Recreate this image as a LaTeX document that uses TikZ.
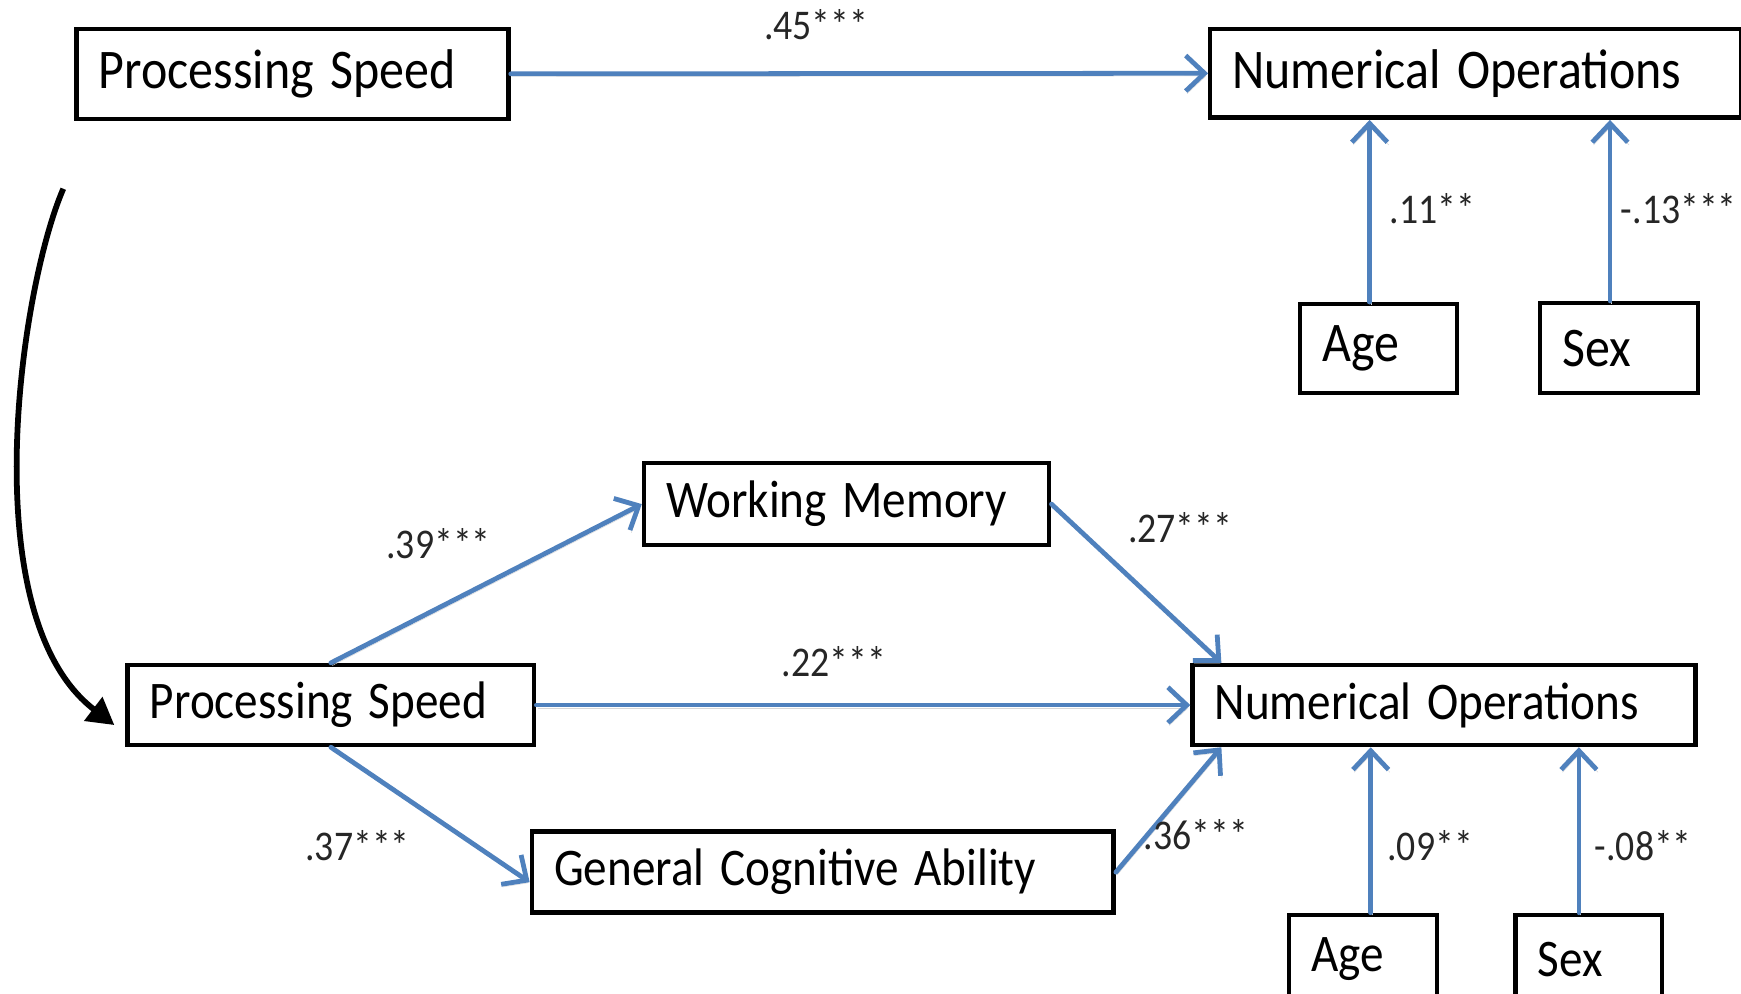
\documentclass[tikz,border=0pt]{standalone}
\usepackage{graphicx}
\usepackage{fontspec}
\setmainfont{Carlito}
\usetikzlibrary{arrows.meta,calc}
\definecolor{pathblue}{RGB}{79,129,189}
% narrow, tall lettering
\newcommand\tall[1]{\scalebox{1}[1.12]{#1}}
\begin{document}
\begin{tikzpicture}[x=1pt,y=-1pt,
  box/.style={draw=black, line width=4pt, rectangle, inner xsep=20pt, inner ysep=0pt,
    align=left, anchor=north west, font=\fontsize{45}{48}\selectfont},
  smallbox/.style={box, font=\fontsize{42.5}{46}\selectfont},
  path/.style={draw=pathblue, line width=4.3pt, line cap=round,
    -{Straight Barb[length=17pt,width=32pt,line width=4.3pt]},
    preaction={draw=black!16, transform canvas={shift={(1.2pt,-2.4pt)}}}},
  coef/.style={font=\fontsize{34}{38}\selectfont, text=black!85, inner sep=0pt},
  feedback/.style={draw=black, line width=5.2pt, -{Triangle[length=24pt,width=26pt]}}]
\clip (0,0) rectangle (1568,895);
\fill[white] (0,0) rectangle (1568,895);

% Model 1: total effect
\node[box, minimum height=81pt, text width=349pt] (ps1) at (67,24) {\tall{Processing Speed}};
\node[box, minimum height=80pt, text width=438pt] (no1) at (1088,24) {\tall{Numerical Operations}};
\node[box, minimum height=80pt, text width=101pt] (age1) at (1169,272) {\tall{Age}};
\node[box, minimum height=81pt, text width=102pt] (sex1) at (1385,271) {\tall{Sex}};

\draw[path] (ps1.east) -- (no1.west);
\coordinate (a1) at ([xshift=-8pt]age1.north);
\coordinate (s1) at ([xshift=-8pt]sex1.north);
\draw[path] (a1) -- (a1 |- no1.south);
\draw[path] (s1) -- (s1 |- no1.south);

\node[coef] (c45) at (735,22) {\tall{.45***}};
\node[coef] (c11) at (1290,188) {\tall{.11**}};
\node[coef] (c13) at (1512,188) {\tall{-.13***}};

% Model 2: mediated effect
\node[smallbox, minimum height=74pt, text width=325pt] (wm) at (578,415) {\tall{Working Memory}};
\node[smallbox, minimum height=72pt, text width=326pt] (ps2) at (113,597) {\tall{Processing Speed}};
\node[smallbox, minimum height=72pt, text width=413pt] (no2) at (1072,597) {\tall{Numerical Operations}};
\node[smallbox, minimum height=73pt, text width=484pt] (gca) at (477,747) {\tall{General Cognitive Ability}};
\node[smallbox, minimum height=80pt, text width=93pt] (age2) at (1159,822) {\tall{Age}};
\node[smallbox, minimum height=80pt, text width=92pt] (sex2) at (1363,822) {\tall{Sex}};

\coordinate (ni) at ($(no2.north west)+(28,0)$);
\coordinate (nb) at ($(no2.south west)+(28,0)$);
\draw[path] (ps2.north) -- (wm.west);
\draw[path] (wm.east) -- (ni);
\draw[path] (ps2.east) -- (no2.west);
\draw[path] (ps2.south) -- ([yshift=-9pt]gca.west);
\draw[path] (gca.east) -- (nb);
\coordinate (a2) at ([xshift=7pt]age2.north);
\coordinate (s2) at ([xshift=-9pt]sex2.north);
\draw[path] (a2) -- (a2 |- no2.south);
\draw[path] (s2) -- (s2 |- no2.south);

\node[coef] (c39) at (395,490) {\tall{.39***}};
\node[coef] (c27) at (1063,475) {\tall{.27***}};
\node[coef] (c22) at (751,596) {\tall{.22***}};
\node[coef] (c37) at (322,762) {\tall{.37***}};
\node[coef] (c36) at (1077,752) {\tall{.36***}};
\node[coef] (c09) at (1288,762) {\tall{.09**}};
\node[coef] (c08) at (1480,762) {\tall{-.08**}};

% From the first model to the second
\coordinate (fs) at (57,170);
\coordinate (fe) at (103,653);
\draw[feedback] (fs) .. controls (18,260) and (-25,555) .. (fe);
\end{tikzpicture}
\end{document}
